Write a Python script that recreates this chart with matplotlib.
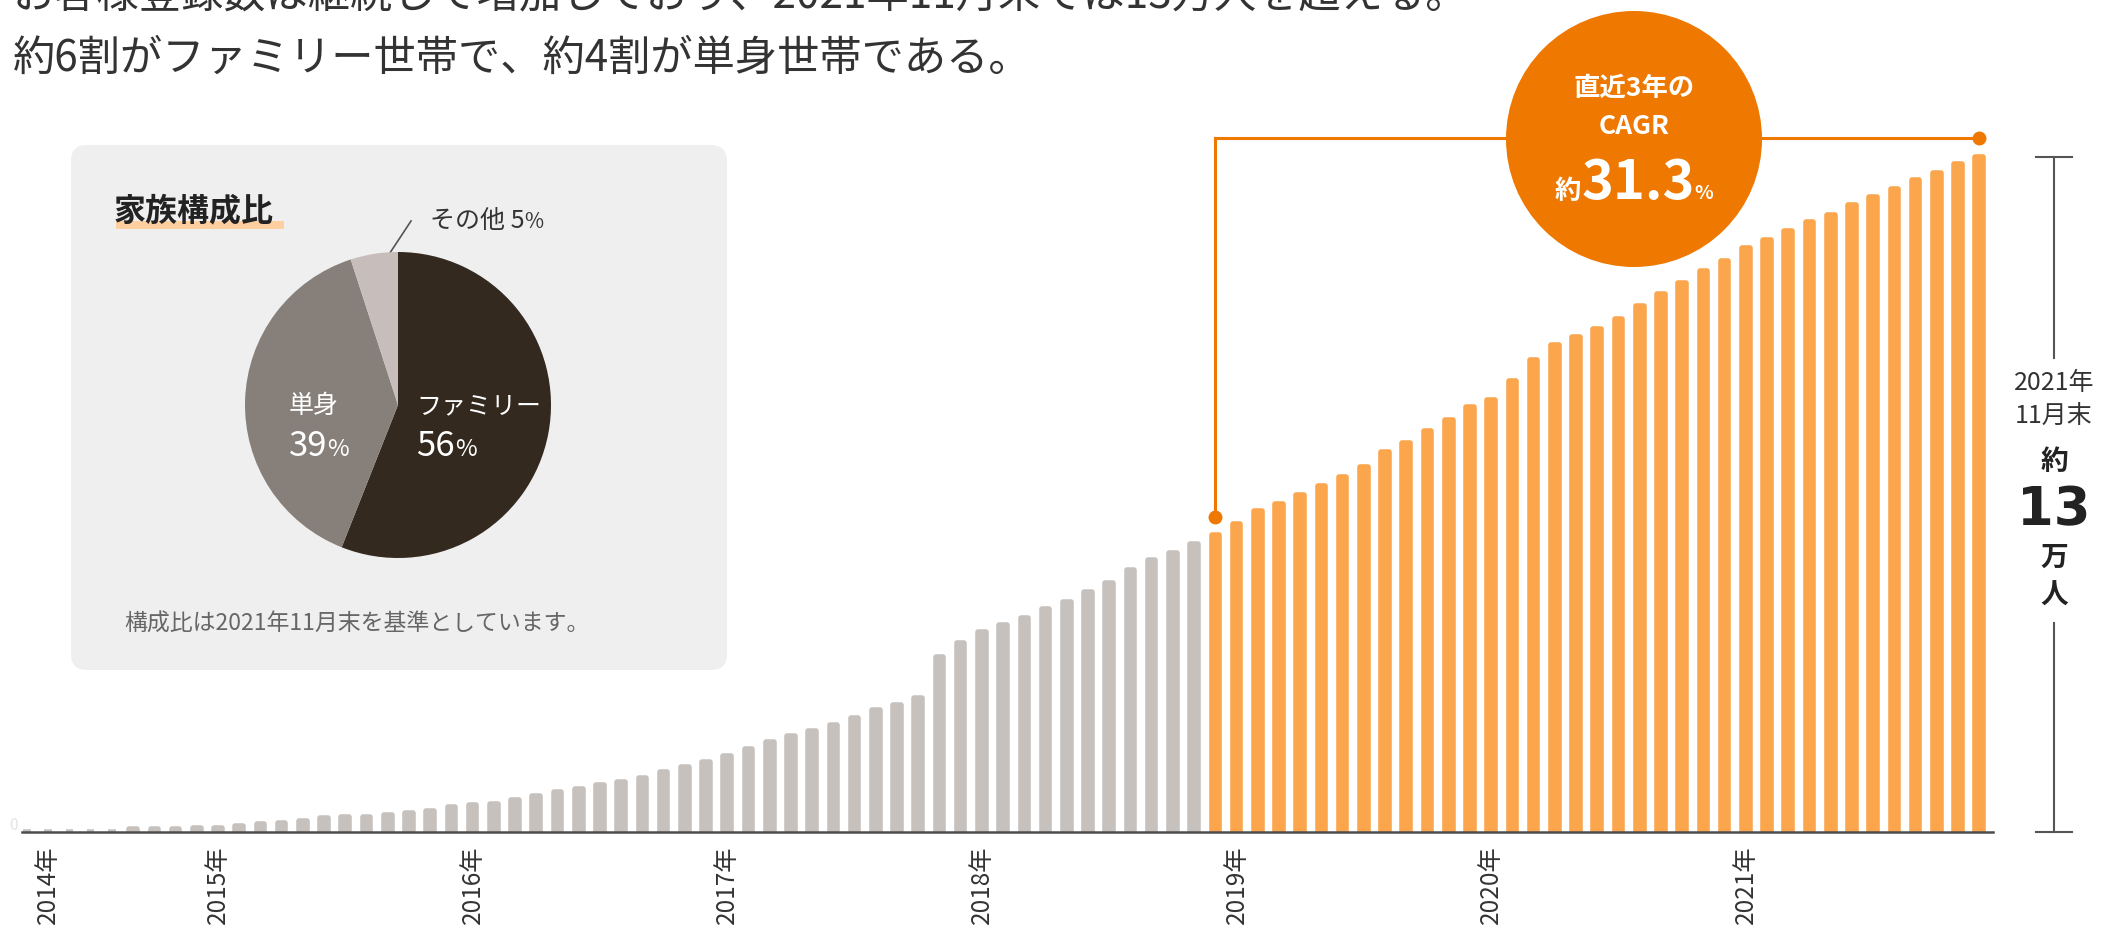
import matplotlib
matplotlib.use("Agg")
import matplotlib.pyplot as plt
from matplotlib.patches import FancyBboxPatch, Circle, Rectangle

plt.rcParams['font.family'] = ['Noto Sans CJK JP', 'DejaVu Sans']

W, H = 2105, 931

# 月末時点の登録者数(万人)、2014年〜2021年11月末
members = [
    0, 0, 0, 0, 0, 0.06, 0.06, 0.06, 0.08, 0.08,
    0.12, 0.15, 0.18, 0.22, 0.26, 0.29, 0.29, 0.33, 0.36, 0.40,
    0.48, 0.51, 0.53, 0.61, 0.69, 0.76, 0.83, 0.90, 0.97, 1.04,
    1.15, 1.25, 1.35, 1.46, 1.60, 1.73, 1.85, 1.95, 2.06, 2.20,
    2.34, 2.45, 2.58, 3.37, 3.63, 3.85, 3.99, 4.12, 4.28, 4.42,
    4.62, 4.79, 5.03, 5.23, 5.37, 5.53, 5.71, 5.92, 6.17, 6.30,
    6.48, 6.65, 6.83, 7.02, 7.30, 7.48, 7.71, 7.92, 8.18, 8.31,
    8.67, 9.08, 9.37, 9.52, 9.67, 9.86, 10.12, 10.35, 10.55, 10.79,
    10.99, 11.24, 11.38, 11.56, 11.73, 11.87, 12.05, 12.21, 12.36, 12.54,
    12.68, 12.85, 12.99,
]
recent_start = 56  # 直近3年(CAGR対象)の開始位置

year_ticks = [1, 9, 21, 33, 45, 57, 69, 81]
year_labels = ["2014年", "2015年", "2016年", "2017年", "2018年", "2019年", "2020年", "2021年"]

family_labels = ["ファミリー", "単身", "その他"]
family_share = [56, 39, 5]
family_colors = ["#33291f", "#867f7a", "#c7bebb"]

headline = [
    "お客様登録数は継続して増加しており、2021年11月末では13万人を超える。",
    "約6割がファミリー世帯で、約4割が単身世帯である。",
]
cagr_text = "31.3"

GRAY = "#c6c1bd"
ORANGE_BAR = "#fba54d"
ORANGE = "#ee7800"
TEXT = "#333333"

# ピクセル配置
BAR_X0, BAR_STEP = 27, 21.22
BASE_Y, PX_PER_UNIT = 832, 52.0

fig = plt.figure(figsize=(W / 100, H / 100), dpi=100)
fig.patch.set_facecolor("white")

# ---- 棒グラフ ----
ax = fig.add_axes([0, (H - BASE_Y) / H, 1, BASE_Y / H])
ax.set_xlim(-BAR_X0 / BAR_STEP, (W - BAR_X0) / BAR_STEP)
ax.set_ylim(0, BASE_Y / PX_PER_UNIT)
ax.axis("off")

xs = list(range(len(members)))
colors = [GRAY if i < recent_start else ORANGE_BAR for i in xs]
ax.bar(xs, members, width=0.36, color=colors, edgecolor=colors,
       linewidth=4, joinstyle="round", zorder=2)
ax.plot([-0.24, len(members) - 0.35], [0, 0], color="#4d4d4d", lw=1.8,
        clip_on=False, zorder=3)

# CAGR の区間表示
off = 0.35
x1, x2 = recent_start, len(members) - 1
y1, y2 = members[x1] + off, members[x2] + off
ax.plot([x1, x1, x2], [y1, y2, y2], color=ORANGE, lw=2.2, zorder=4,
        solid_joinstyle="miter")
ax.plot([x1, x2], [y1, y2], "o", color=ORANGE, ms=9, zorder=5)

# 年ラベル
for t, lab in zip(year_ticks, year_labels):
    ax.text(t, (BASE_Y - 845) / PX_PER_UNIT, lab, rotation=90, ha="center",
            va="top", fontsize=17.5, color=TEXT, clip_on=False)


def pixel_axes(z):
    a = fig.add_axes([0, 0, 1, 1], facecolor="none", zorder=z)
    a.set_xlim(0, W)
    a.set_ylim(H, 0)
    a.axis("off")
    return a


# ---- 重ね描き用(ピクセル座標) ----
ov = pixel_axes(2)
renderer = fig.canvas.get_renderer()


def draw_runs(a, x, y, runs, color, align="center"):
    items = []
    total = 0
    for s, size, weight in runs:
        t = a.text(0, y, s, fontsize=size, fontweight=weight, color=color,
                   ha="left", va="baseline", zorder=5)
        w = t.get_window_extent(renderer=renderer).width
        items.append((t, w))
        total += w
    pos = x - total / 2 if align == "center" else x
    for t, w in items:
        t.set_x(pos)
        pos += w


ov.text(13, -4, headline[0], fontsize=30.4, color=TEXT, va="center", ha="left")
ov.text(13, 59, headline[1], fontsize=30.4, color=TEXT, va="center", ha="left")

ov.text(14, 826, "0", fontsize=11, color="#e4e4e4", va="center", ha="center")

# 家族構成比パネル
ov.add_patch(FancyBboxPatch((71, 145), 656, 525,
                            boxstyle="round,pad=0,rounding_size=16",
                            fc="#efefef", ec="none", zorder=1))
ov.add_patch(Rectangle((116, 221), 168, 8, fc="#ffcf9f", ec="none", zorder=2))
ov.text(114, 211, "家族構成比", fontsize=23, fontweight="bold", color="#222222",
        va="center", ha="left", zorder=3)
ov.plot([411, 380], [221, 268], color="#555555", lw=1.2, zorder=3)
draw_runs(ov, 430, 228, [("その他 " + str(family_share[2]), 18, "normal"),
                         ("%", 15, "normal")], TEXT, align="left")
ov.text(124, 624, "構成比は2021年11月末を基準としています。", fontsize=16.5,
        color="#666666", va="center", ha="left")

# CAGR バッジ
ov.add_patch(Circle((1634, 139), 128, fc=ORANGE, ec="none", zorder=2))
ov.text(1634, 88, "直近3年の", fontsize=19, fontweight="bold", color="white",
        ha="center", va="center", zorder=3)
ov.text(1634, 127, "CAGR", fontsize=19, fontweight="bold", color="white",
        ha="center", va="center", zorder=3)
draw_runs(ov, 1634, 199, [("約", 19, "bold"), (cagr_text, 39, "bold"), ("%", 14, "bold")],
          "white")

# 右側の目盛り
bx = 2054
ov.plot([bx, bx], [157, 358], color="#555555", lw=1.5)
ov.plot([bx, bx], [623, 832], color="#555555", lw=1.5)
ov.plot([bx - 18, bx + 18], [157, 157], color="#555555", lw=1.5)
ov.plot([bx - 18, bx + 18], [832, 832], color="#555555", lw=1.5)
ov.text(bx, 383, "2021年", fontsize=18, color=TEXT, ha="center", va="center")
ov.text(bx, 417, "11月末", fontsize=18, color=TEXT, ha="center", va="center")
ov.text(bx, 462, "約", fontsize=20, fontweight="bold", color="#222222",
        ha="center", va="center")
ov.text(bx, 510, "13", fontsize=38, fontweight="bold", color="#222222",
        ha="center", va="center", family=["DejaVu Sans"])
ov.text(bx, 558, "万", fontsize=20, fontweight="bold", color="#222222",
        ha="center", va="center")
ov.text(bx, 596, "人", fontsize=20, fontweight="bold", color="#222222",
        ha="center", va="center")

# ---- 円グラフ ----
cx, cy, r = 398, 405, 153
pax = fig.add_axes([(cx - r) / W, (H - cy - r) / H, 2 * r / W, 2 * r / H], zorder=3)
pax.pie(family_share, colors=family_colors, startangle=90, counterclock=False,
        radius=1, wedgeprops=dict(linewidth=0))
pax.set_xlim(-1, 1)
pax.set_ylim(-1, 1)
pax.axis("off")

# 円グラフ上のラベル
lab = pixel_axes(4)
lab.text(416, 406, family_labels[0], fontsize=18, color="white", va="center",
         ha="left")
draw_runs(lab, 416, 456, [(str(family_share[0]), 25, "normal"), ("%", 17, "normal")],
          "white", align="left")
lab.text(289, 406, family_labels[1], fontsize=18, color="white", va="center",
         ha="left")
draw_runs(lab, 289, 456, [(str(family_share[1]), 25, "normal"), ("%", 17, "normal")],
          "white", align="left")

fig.savefig("out.png", dpi=100)
